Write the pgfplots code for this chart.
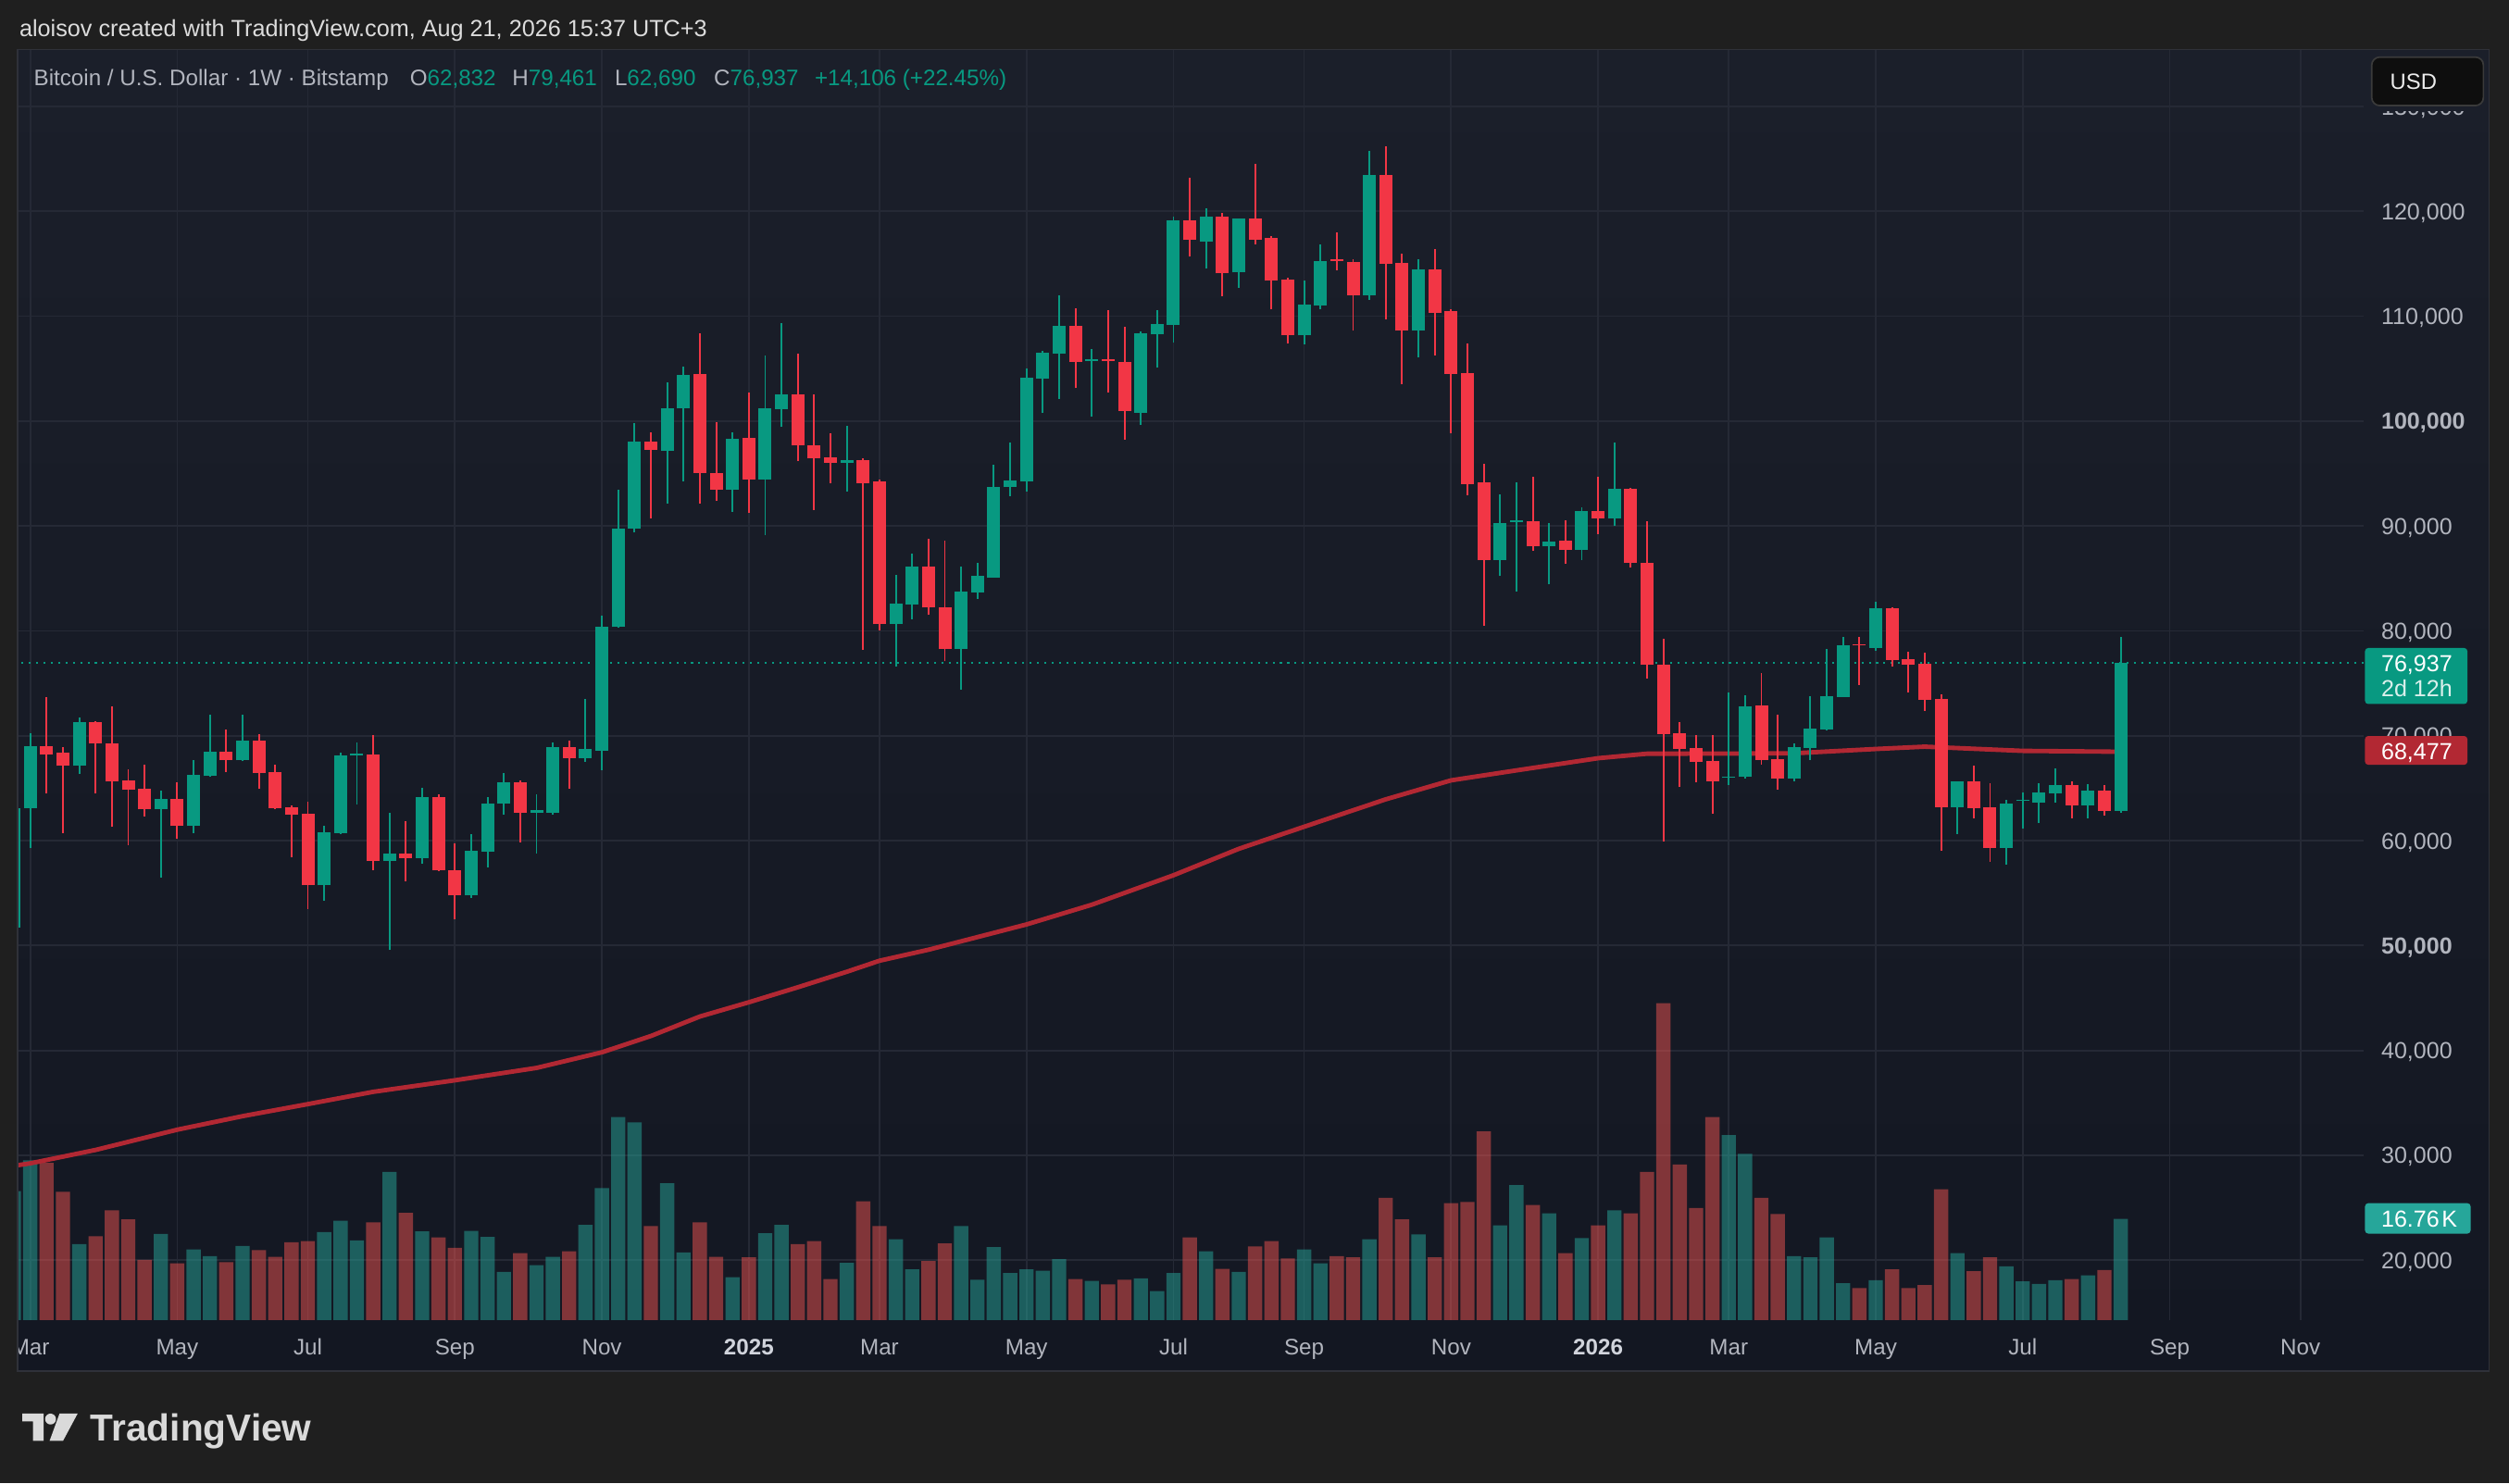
\documentclass[border=0pt]{standalone}
\usepackage{pgfplots}
\pgfplotsset{compat=1.18}
\usepackage{pgfplotstable}
\usepackage{fontspec}
\setmainfont{Liberation Sans}
\definecolor{outerbg}{HTML}{1F1F1F}
\definecolor{panetop}{HTML}{1B1F2A}
\definecolor{panebot}{HTML}{131722}
\definecolor{gridc}{HTML}{252935}
\definecolor{upc}{HTML}{089981}
\definecolor{dnc}{HTML}{F23645}
\definecolor{volup}{HTML}{26A69A}
\definecolor{voldn}{HTML}{EF5350}
\definecolor{mac}{HTML}{B22833}
\definecolor{lbl}{HTML}{B2B5BE}
\definecolor{brightlbl}{HTML}{D1D4DC}
\definecolor{paneborder}{HTML}{2F3139}
\definecolor{usdfill}{HTML}{0E0E0E}
\definecolor{usdborder}{HTML}{3A3A3A}
\definecolor{toptext}{HTML}{DCDCDC}
\definecolor{logoc}{HTML}{DADADA}

\pgfplotstableread{
i o h l c v
-1 51730 64000 50900 63100 21.4
0 63104 70214 59292 68972 26.5
3 67130 71713 66402 71285 12.6
8 62976 64732 56508 64004 14.3
10 61391 67644 60749 66231 11.7
11 66145 71970 66060 68458 10.6
13 67644 71970 67559 69572 12.3
18 55738 61391 54281 60834 14.6
19 60749 68372 60663 68158 16.5
20 68100 69400 63447 68300 13.2
22 58044 62694 49550 58726 24.6
24 58354 65050 57796 64182 14.7
27 54758 60648 54572 59036 14.8
28 58974 64120 57486 63562 13.8
29 63500 66476 62508 65608 8.0
31 62694 64430 58788 62942 9.1
32 62694 69328 62446 68956 10.5
34 67902 73544 67530 68708 15.8
35 68584 81418 66724 80426 21.9
36 80364 93446 80302 89788 33.7
37 89726 99832 89354 98034 32.8
39 97166 103676 92144 101196 22.7
40 101196 105164 94252 104420 11.2
43 93446 98902 91338 98282 7.1
45 94438 106280 89106 101196 14.4
46 101134 109318 99460 102560 15.8
50 96050 99522 93322 96298 9.5
53 80633 85320 76596 82580 13.4
54 82508 87411 81138 86113 8.4
57 78254 86113 74433 83734 15.6
58 83662 86474 83085 85248 6.7
59 85104 95847 85104 93756 12.1
60 93684 97937 92819 94332 7.8
61 94260 105003 93323 104138 8.4
62 104066 106661 100749 106517 8.2
63 106445 111997 102119 109041 10.1
65 105724 106878 100389 105868 6.5
68 100822 108536 99668 108392 6.9
69 108248 110555 105076 109257 4.8
70 109185 119495 107455 119135 7.8
72 117116 120288 114520 119495 11.4
74 114160 119350 112718 119279 8.0
78 108176 113367 107311 111132 11.7
79 110988 116828 110627 115300 9.4
82 112012 125737 111576 123486 13.4
85 108599 115425 106057 114481 14.2
90 86740 93058 85215 90298 15.7
91 90371 94147 83762 90516 22.4
93 88047 90298 84416 88556 17.7
95 87757 91751 86740 91461 13.6
97 90734 97924 90008 93567 18.2
104 65972 74104 65318 66117 30.7
105 66100 73886 65899 72797 27.6
108 65899 69240 65681 68949 10.6
109 68828 73753 67688 70698 10.4
110 70607 78267 70515 73753 13.7
111 73707 79407 73707 78632 6.1
113 78358 82782 78085 82143 6.6
118 63174 65636 60620 65636 11.1
121 59298 63903 57702 63538 8.9
122 63766 64587 61168 63812 6.4
123 63630 65499 61669 64587 6.0
124 64496 66867 63630 65317 6.6
126 63356 65408 62125 64770 7.4
128 62832 79461 62690 76937 16.8
}\upT

\pgfplotstableread{
i o h l c v
1 68972 73726 64475 68244 26.1
2 68372 68886 60749 67130 21.3
4 71285 71400 64475 69229 13.9
5 69315 72784 61306 65631 18.2
6 65717 66831 59592 64818 16.7
7 64904 67216 62333 62976 10.0
9 64004 65546 60149 61391 9.4
12 68458 70557 66574 67644 9.6
14 69572 70128 64904 66488 11.6
15 66574 67216 63000 63061 10.5
16 63147 63318 58436 62505 12.9
17 62590 63747 53511 55738 13.1
21 68244 70043 57194 58050 16.2
23 58726 61826 56122 58354 17.8
25 64182 64430 57100 57176 13.7
26 57176 59780 52526 54758 12.0
30 65608 65700 59842 62694 11.1
33 68956 69514 64988 67902 11.4
38 98034 98902 90718 97290 15.6
41 104482 108388 92144 95058 16.2
42 95058 99894 92392 93446 10.5
44 98406 102746 91214 94438 10.4
47 102560 106404 96174 97662 12.6
48 97662 102560 91524 96422 13.1
49 96546 98840 94066 96050 6.8
51 96279 96423 78182 94116 19.7
52 94260 94404 80056 80633 15.6
55 86113 88780 81499 82220 9.8
56 82292 88564 77100 78254 12.7
64 109041 110771 103129 105652 6.8
66 105868 110555 102768 105724 5.9
67 105652 108969 98226 100966 6.7
71 119135 123172 115674 117260 13.7
73 119495 119856 111925 114088 8.5
75 119279 124542 116828 117332 12.2
76 117477 117621 110627 113367 13.1
77 113511 113655 107383 108176 10.2
80 115425 117967 114408 115280 10.6
81 115207 115425 108599 112012 10.4
83 123486 126245 109688 114989 20.3
84 115062 116006 103515 108599 16.7
86 114481 116369 106275 110342 10.4
87 110487 110705 98868 104532 19.4
88 104605 107437 92913 94002 19.6
89 94147 95890 80495 86740 31.3
92 90443 94655 87612 88047 19.1
94 88628 90516 86377 87757 11.1
96 91461 94728 89208 90734 15.7
98 93567 93650 86014 86450 17.7
99 86522 90443 75484 76791 24.6
100 76791 79260 59944 70183 52.6
101 70256 71346 65100 68731 25.8
102 68803 70038 65608 67496 18.6
103 67569 70038 62558 65681 33.7
106 72870 75993 67278 67714 20.3
107 67787 71999 64882 65899 17.6
112 78723 79407 74847 78586 5.3
114 82143 82234 76580 77218 8.4
115 77309 77994 74118 76808 5.3
116 76854 77902 72385 73434 5.8
117 73525 73935 59024 63174 21.7
119 65636 67141 62125 63082 8.1
120 63174 65499 57975 59298 10.4
125 65317 65636 62125 63356 6.8
127 64770 65317 62398 62850 8.3
}\dnT

\pgfplotsset{
  base/.style={at={(plotorigin)}, anchor=south west, scale only axis,
    width=1465.6pt, height=794pt, xmin=-0.715, xmax=142.88,
    scaled x ticks=false, scaled y ticks=false,
    axis line style={draw=none}, tick style={draw=none}, major tick length=0pt},
  candle/.style={draw=none, mark=none, forget plot,
    error bars/.cd, y dir=plus, y explicit, error mark=none},
}

\begin{document}
\begin{tikzpicture}[x=1pt,y=1pt]
\fill[outerbg] (0,0) rectangle (1568,927);
\shade[top color=panetop, bottom color=panebot] (11,70) rectangle (1555.5,896);
\coordinate (plotorigin) at (11.6pt,102pt);

% grid and tick labels
\begin{axis}[base, ymin=14294, ymax=135424,
  xtick={0,9,17,26,35,44,52,61,70,78,87,96,104,113,122,131,139},
  xticklabels={Mar,May,Jul,Sep,Nov,{\color{brightlbl}\bfseries 2025},Mar,May,Jul,Sep,Nov,{\color{brightlbl}\bfseries 2026},Mar,May,Jul,Sep,Nov},
  ytick={20000,30000,40000,50000,60000,70000,80000,90000,100000,110000,120000,130000},
  yticklabels={{20,000},{30,000},{40,000},{\bfseries 50,000},{60,000},{70,000},{80,000},{90,000},{\bfseries 100,000},{110,000},{120,000},{130,000}},
  yticklabel pos=right,
  grid=major, grid style={gridc, line width=1pt},
  xticklabel style={font=\fontsize{14}{14}\selectfont, text=lbl, anchor=base, yshift=-22pt, inner sep=0pt},
  yticklabel style={font=\fontsize{14.5}{14.5}\selectfont, text=lbl, anchor=base west, xshift=10.8pt, yshift=-5.2pt, inner sep=0pt},
]
\addplot[draw=none, forget plot] coordinates {(0,50000)};
\end{axis}

% volume
\begin{axis}[base, ymin=0, ymax=210.9, xtick=\empty, ytick=\empty]
\addplot[ybar, bar width=8.9pt, bar shift=0pt, draw=none, fill=volup, fill opacity=0.5] table[x=i, y=v] {\upT};
\addplot[ybar, bar width=8.9pt, bar shift=0pt, draw=none, fill=voldn, fill opacity=0.5] table[x=i, y=v] {\dnT};
\end{axis}

% price
\begin{axis}[base, ymin=14294, ymax=135424, xtick=\empty, ytick=\empty]
\addplot[mac, line width=2.8pt, line join=round] coordinates {
(-1,29000) (0,29230) (4,30510) (9,32440) (13,33730) (17,34880) (21,36050)
(26,37150) (31,38330) (35,39820) (38,41370) (41,43230) (44,44590) (47,46020)
(50,47500) (52,48550) (55,49600) (61,52010) (65,53890) (70,56700) (74,59220)
(79,61850) (83,63940) (87,65750) (91,66700) (96,67860) (99,68290) (104,68300)
(108,68330) (113,68740) (116,68960) (122,68560) (128,68477)};
\addplot[upc, line width=1pt, dash pattern=on 1.2pt off 3.4pt] coordinates {(-1,76937) (143,76937)};
% wicks
\addplot[candle, error bar style={draw=upc, line width=1.1pt}]
  table[x=i, y=l, y error plus expr=\thisrow{h}-\thisrow{l}] {\upT};
\addplot[candle, error bar style={draw=dnc, line width=1.1pt}]
  table[x=i, y=l, y error plus expr=\thisrow{h}-\thisrow{l}] {\dnT};
% bodies
\addplot[candle, error bar style={draw=upc, line width=8.1pt}]
  table[x=i, y=o, y error plus expr={max(\thisrow{c}-\thisrow{o},160)}] {\upT};
\addplot[candle, error bar style={draw=dnc, line width=8.1pt}]
  table[x=i, y=c, y error plus expr={max(\thisrow{o}-\thisrow{c},160)}] {\dnT};
\end{axis}

% left cover and pane border
\fill[outerbg] (0,60) rectangle (11,900);
\draw[paneborder, line width=1pt] (11,70) rectangle (1555.5,896);

% right side labels
\fill[upc, rounded corners=2pt] (1478,487) rectangle (1542,522);
\node[anchor=base west, inner sep=0pt, font=\fontsize{14.5}{14.5}\selectfont, text=white] at (1488,507.4) {76,937};
\node[anchor=base west, inner sep=0pt, font=\fontsize{14.5}{14.5}\selectfont, text=white!85!upc] at (1488,491.8) {2d 12h};
\fill[mac, rounded corners=2pt] (1478,449) rectangle (1542,467);
\node[anchor=base west, inner sep=0pt, font=\fontsize{14.5}{14.5}\selectfont, text=white] at (1488,452.2) {68,477};
\fill[volup, rounded corners=2pt] (1478,156) rectangle (1544,175);
\node[anchor=base west, inner sep=0pt, font=\fontsize{14.5}{14.5}\selectfont, text=white] at (1488,160.3) {16.76\kern1.5pt K};

% mask above the top price label and USD button
\fill[panetop] (1478,857.6) rectangle (1555,880);
\draw[fill=usdfill, draw=usdborder, line width=1pt, rounded corners=5pt] (1482.2,861) rectangle (1552,891.3);
\node[anchor=base west, inner sep=0pt, font=\fontsize{13.8}{13.8}\selectfont, text=white!92!black] at (1493.5,871.4) {USD};

% top text
\node[anchor=base west, inner sep=0pt, font=\fontsize{14.6}{14.6}\selectfont, text=toptext] at (12,904) {aloisov created with TradingView.com, Aug 21, 2026 15:37 UTC+3};

% legend
\begin{scope}[every node/.style={anchor=base west, inner sep=0pt, font=\fontsize{14}{14}\selectfont}]
\node[text=lbl] at (21,873.5) {Bitcoin / U.S. Dollar · 1W · Bitstamp};
\node at (256,873.5) {\color{lbl}O\color{upc}62,832};
\node at (320,873.5) {\color{lbl}H\color{upc}79,461};
\node at (384,873.5) {\color{lbl}L\color{upc}62,690};
\node at (446,873.5) {\color{lbl}C\color{upc}76,937};
\node[text=upc] at (509,873.5) {+14,106 (+22.45\%)};
\end{scope}

% TradingView logo
\fill[logoc] (14,43.5) -- (27.2,43.5) -- (27.2,26.5) -- (20.6,26.5) -- (20.6,38.7) -- (14,38.7) -- cycle;
\fill[logoc] (31.6,40.1) circle (3.4);
\fill[logoc] (37.2,43.5) -- (48.5,43.5) -- (39.4,26.5) -- (31.0,26.5) -- cycle;
\node[anchor=base west, inner sep=0pt, font=\fontsize{23.5}{23.5}\selectfont\bfseries, text=logoc] at (56.5,26.3) {TradingView};
\end{tikzpicture}
\end{document}
